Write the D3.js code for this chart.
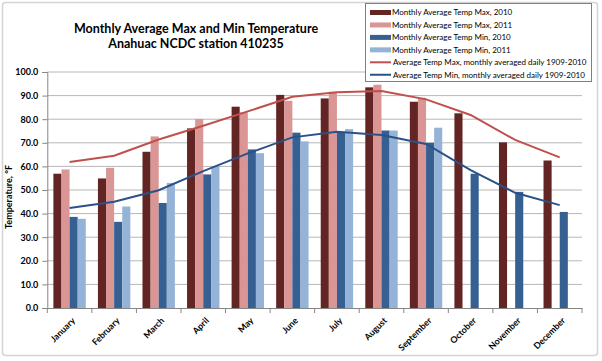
<!DOCTYPE html>
<html>
<head>
<meta charset="utf-8">
<style>
  body { margin: 0; background: #fff; }
  svg text { font-family: Lato, "Open Sans", sans-serif; fill: #000; }
</style>
</head>
<body>
<svg id="chart" width="602" height="361"></svg>
<script src="https://cdn.jsdelivr.net/npm/d3@7"></script>
<script>
// data
var months = ["January", "February", "March", "April", "May", "June", "July",
              "August", "September", "October", "November", "December"];
var max2010 = [56.9, 54.9, 66.2, 76.1, 85.3, 90.3, 88.8, 93.5, 87.4, 82.5, 70.2, 62.5];
var max2011 = [58.7, 59.4, 72.7, 80.1, 82.9, 87.8, 91.6, 94.6, 89.1, null, null, null];
var min2010 = [38.6, 36.5, 44.5, 56.6, 67.2, 74.3, 74.7, 75.2, 70.0, 56.9, 49.2, 40.7];
var min2011 = [37.8, 43.0, 53.0, 60.1, 65.6, 70.6, 75.8, 75.2, 76.4, null, null, null];
var maxNormal = [61.9, 64.5, 71.4, 77.2, 83.3, 89.5, 91.4, 91.9, 88.4, 81.8, 71.2, 63.8];
var minNormal = [42.4, 45.0, 49.9, 58.0, 65.5, 72.3, 74.7, 73.3, 69.5, 58.4, 48.8, 43.6];
var yTicks = [0, 10, 20, 30, 40, 50, 60, 70, 80, 90, 100];

var barSeries = [
  { name: "Monthly Average Temp Max, 2010", values: max2010, color: "#632523" },
  { name: "Monthly Average Temp Max, 2011", values: max2011, color: "#DA9694" },
  { name: "Monthly Average Temp Min, 2010", values: min2010, color: "#366092" },
  { name: "Monthly Average Temp Min, 2011", values: min2011, color: "#95B3D7" }
];
var lineSeries = [
  { name: "Average Temp Max, monthly averaged daily 1909-2010", values: maxNormal, color: "#C0504D" },
  { name: "Average Temp Min, monthly averaged daily 1909-2010", values: minNormal, color: "#2B5189" }
];

var svg = d3.select("#chart");

// outer frame
svg.append("rect")
    .attr("x", 2.5).attr("y", 2.5)
    .attr("width", 595).attr("height", 353)
    .attr("rx", 3)
    .attr("fill", "#fff")
    .attr("stroke", "#d4d4d4")
    .attr("stroke-width", 1.5);

var plotL = 47.3, plotR = 582, plotT = 72, plotB = 308;

var x = d3.scaleBand().domain(months).range([plotL, plotR]).padding(0);
var x1 = d3.scaleBand().domain(d3.range(barSeries.length))
    .range([0, x.bandwidth()]).paddingInner(0).paddingOuter(0.75);
var y = d3.scaleLinear().domain([0, 100]).range([plotB, plotT]);

// gridlines
svg.append("g").selectAll("line")
    .data(yTicks.filter(function(t) { return t > 0; }))
    .join("line")
    .attr("x1", plotL).attr("x2", plotR)
    .attr("y1", function(d) { return y(d); })
    .attr("y2", function(d) { return y(d); })
    .attr("stroke", "#b7b7b7")
    .attr("stroke-width", 1);

// bars
barSeries.forEach(function(s, si) {
  svg.append("g").selectAll("rect")
      .data(s.values.map(function(v, i) { return { m: months[i], v: v }; })
                    .filter(function(d) { return d.v != null; }))
      .join("rect")
      .attr("x", function(d) { return x(d.m) + x1(si); })
      .attr("width", x1.bandwidth())
      .attr("y", function(d) { return y(d.v); })
      .attr("height", function(d) { return y(0) - y(d.v); })
      .attr("fill", s.color);
});

// lines
var line = d3.line()
    .x(function(d, i) { return x(months[i]) + x.bandwidth() / 2; })
    .y(function(d) { return y(d); });

lineSeries.forEach(function(s) {
  svg.append("path")
      .datum(s.values)
      .attr("d", line)
      .attr("fill", "none")
      .attr("stroke", s.color)
      .attr("stroke-width", 2);
});

// y axis
var yAxis = svg.append("g")
    .attr("transform", "translate(" + plotL + ",0)")
    .call(d3.axisLeft(y).tickValues(yTicks).tickFormat(d3.format(".1f")).tickSize(5).tickPadding(4));
yAxis.select(".domain").attr("stroke", "#868686");
yAxis.selectAll(".tick line").attr("stroke", "#868686");
yAxis.selectAll("text")
    .attr("font-size", 9).attr("font-weight", "bold")
    .attr("font-family", "Lato, sans-serif");

// x axis
var xAxis = svg.append("g")
    .attr("transform", "translate(0," + plotB + ")")
    .call(d3.axisBottom(x).tickSize(0).tickPadding(0));
xAxis.select(".domain").attr("stroke", "#868686");
xAxis.selectAll(".tick text")
    .attr("font-size", 8.8).attr("font-weight", "bold")
    .attr("font-family", "Lato, sans-serif")
    .attr("text-anchor", "end")
    .attr("dy", "0.35em")
    .attr("transform", "translate(4,11) rotate(-45)");
// tick marks between categories
svg.append("g").selectAll("line")
    .data(months.concat(["end"]))
    .join("line")
    .attr("x1", function(d, i) { return plotL + i * x.step(); })
    .attr("x2", function(d, i) { return plotL + i * x.step(); })
    .attr("y1", plotB).attr("y2", plotB + 5)
    .attr("stroke", "#868686");

// y title
svg.append("text")
    .attr("transform", "translate(12,197) rotate(-90)")
    .attr("text-anchor", "middle")
    .attr("font-size", 9).attr("font-weight", "bold")
    .text("Temperature, °F");

// title
var title = svg.append("text")
    .attr("text-anchor", "middle")
    .attr("font-size", 12.5).attr("font-weight", "bold");
title.append("tspan").attr("x", 196).attr("y", 33).text("Monthly Average Max and Min Temperature");
title.append("tspan").attr("x", 196).attr("y", 48).text("Anahuac NCDC station 410235");

// legend
var lg = svg.append("g");
lg.append("rect")
    .attr("x", 365.5).attr("y", 3.5)
    .attr("width", 226).attr("height", 78)
    .attr("fill", "#fff")
    .attr("stroke", "#7f7f7f")
    .attr("stroke-width", 1);
var items = barSeries.map(function(s) { return { name: s.name, color: s.color, kind: "bar" }; })
    .concat(lineSeries.map(function(s) { return { name: s.name, color: s.color, kind: "line" }; }));
var li = lg.selectAll("g.item")
    .data(items)
    .join("g")
    .attr("class", "item")
    .attr("transform", function(d, i) { return "translate(370," + (12.5 + i * 12.45) + ")"; });
li.filter(function(d) { return d.kind === "bar"; })
    .append("rect")
    .attr("x", 0).attr("y", -2.5).attr("width", 21).attr("height", 5)
    .attr("fill", function(d) { return d.color; });
li.filter(function(d) { return d.kind === "line"; })
    .append("line")
    .attr("x1", 0).attr("x2", 21).attr("y1", 0).attr("y2", 0)
    .attr("stroke", function(d) { return d.color; })
    .attr("stroke-width", 2);
li.append("text")
    .attr("x", function(d) { return d.kind === "bar" ? 22 : 23; })
    .attr("dy", "0.35em")
    .attr("font-size", 8)
    .text(function(d) { return d.name; });
</script>
</body>
</html>
